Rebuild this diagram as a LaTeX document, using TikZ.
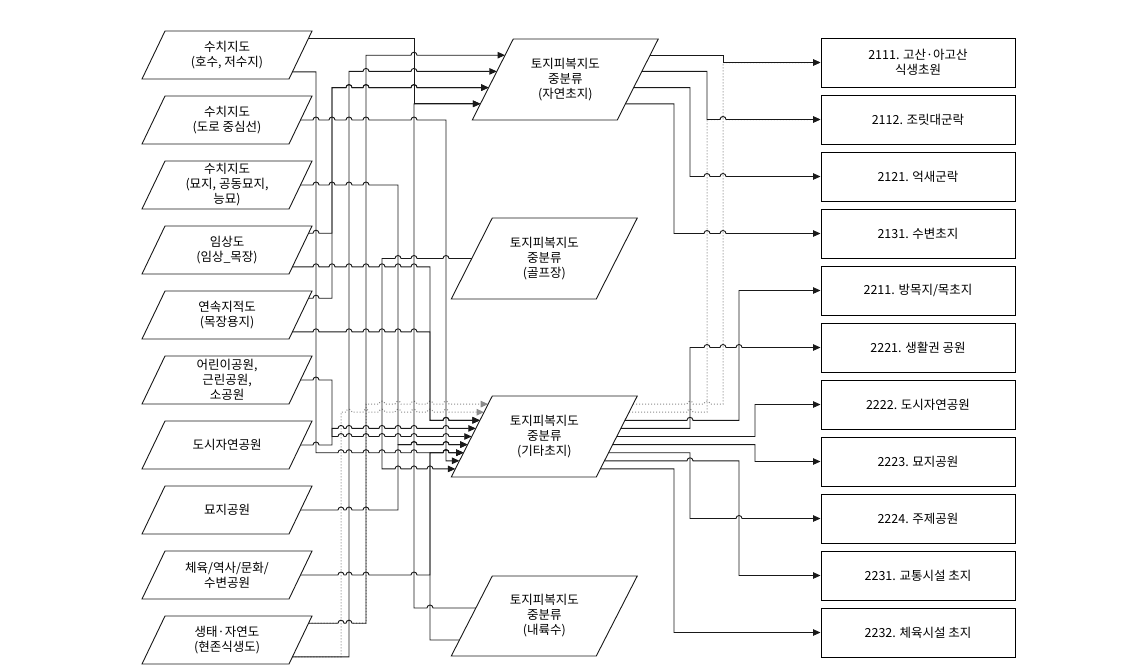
\documentclass[tikz,border=0pt]{standalone}
\usepackage{fontspec}
\setmainfont{Noto Sans CJK KR}
\usetikzlibrary{arrows.meta}
\newcommand\JR[2]{-- ({#1-3},#2) arc[start angle=180,end angle=0,radius=3pt]}
\newcommand\JL[2]{-- ({#1+3},#2) arc[start angle=0,end angle=180,radius=3pt]}
\newcommand\pgram[4]{\draw[shp] (#1.center) ++({-#2+#4},{-#3}) -- ++({2*#2},0) -- ++({-2*#4},{2*#3}) -- ++({-2*#2},0) -- cycle;}
\tikzset{
  ptext/.style={align=center,inner sep=0pt,font=\fontsize{12.5pt}{15pt}\selectfont},
  rbox/.style={draw=black,line width=1pt,minimum width=194pt,minimum height=49pt,inner sep=0pt,align=center,font=\fontsize{12.5pt}{15pt}\selectfont},
  shp/.style={draw=black!90,line width=0.9pt},
  conn/.style={draw=black!90,line width=0.9pt},
  dconn/.style={draw=black!45,line width=1pt,dash pattern=on 1pt off 2pt},
  arr/.style={-{Triangle[length=7.5pt,width=6.5pt]}}
}
\begin{document}
\begin{tikzpicture}[x=1pt,y=-1pt]
\useasboundingbox (0,0) rectangle (1134,670);
% source nodes
\node[ptext] (s1) at (227,55) {수치지도\\(호수, 저수지)};
\node[ptext] (s2) at (227,120) {수치지도\\(도로 중심선)};
\node[ptext] (s3) at (227,185) {수치지도\\(묘지, 공동묘지,\\능묘)};
\node[ptext] (s4) at (227,250) {임상도\\(임상\_목장)};
\node[ptext] (s5) at (227,315) {연속지적도\\(목장용지)};
\node[ptext] (s6) at (227,380) {어린이공원,\\근린공원,\\소공원};
\node[ptext] (s7) at (227,445) {도시자연공원};
\node[ptext] (s8) at (227,510) {묘지공원};
\node[ptext] (s9) at (227,575) {체육/역사/문화/\\수변공원};
\node[ptext] (s10) at (227,640) {생태·자연도\\(현존식생도)};
% middle nodes
\node[ptext] (m1) at (565.25,79.5) {토지피복지도\\중분류\\(자연초지)};
\node[ptext] (m2) at (544.25,258.5) {토지피복지도\\중분류\\(골프장)};
\node[ptext] (m3) at (544.25,436.5) {토지피복지도\\중분류\\(기타초지)};
\node[ptext] (m4) at (544.25,616) {토지피복지도\\중분류\\(내륙수)};
% target boxes
\node[rbox] (b1) at (918,62.5) {2111. 고산·아고산\\식생초원};
\node[rbox] (b2) at (918,119.5) {2112. 조릿대군락};
\node[rbox] (b3) at (918,176.5) {2121. 억새군락};
\node[rbox] (b4) at (918,233.5) {2131. 수변초지};
\node[rbox] (b5) at (918,290.5) {2211. 방목지/목초지};
\node[rbox] (b6) at (918,347.5) {2221. 생활권 공원};
\node[rbox] (b7) at (918,404.5) {2222. 도시자연공원};
\node[rbox] (b8) at (918,461.5) {2223. 묘지공원};
\node[rbox] (b9) at (918,518.5) {2224. 주제공원};
\node[rbox] (b10) at (918,575.5) {2231. 교통시설 초지};
\node[rbox] (b11) at (918,632.5) {2232. 체육시설 초지};
% ports
\coordinate (s1a) at (308.55,38.2);
\coordinate (s1b) at (292.45,71.8);
\coordinate (s2e) at (300.5,120);
\coordinate (s3e) at (300.5,185);
\coordinate (s4a) at (308.55,233.2);
\coordinate (s4b) at (292.45,266.8);
\coordinate (s5a) at (308.55,298.2);
\coordinate (s5b) at (292.45,331.8);
\coordinate (s6e) at (300.5,380);
\coordinate (s7e) at (300.5,445);
\coordinate (s8e) at (300.5,510);
\coordinate (s9e) at (300.5,575);
\coordinate (s10a) at (308.55,623.2);
\coordinate (s10b) at (292.45,656.8);
\coordinate (m1i1) at (505.05,55.2);
\coordinate (m1i2) at (496.85,71.4);
\coordinate (m1i3) at (488.65,87.6);
\coordinate (m1i4) at (480.45,103.8);
\coordinate (m1o1) at (650.05,55.2);
\coordinate (m1o2) at (641.85,71.4);
\coordinate (m1o3) at (633.65,87.6);
\coordinate (m1o4) at (625.45,103.8);
\coordinate (m2w) at (471.75,258.5);
\coordinate (m4a) at (475.85,608);
\coordinate (m4b) at (459.45,640);
\foreach \k in {1,...,9}{
  \coordinate (m3i\k) at ({492.25-4.1*\k},{396+8.1*\k});
  \coordinate (m3o\k) at ({637.25-4.1*\k},{396+8.1*\k});
}
% dotted connectors
\draw[dconn,arr] (s10a) \JR{341}{623.2}\JR{349}{623.2} -- (366,623.2) -- (366,404.1) \JR{382}{404.1}\JR{398}{404.1}\JR{414}{404.1}\JR{430}{404.1}\JR{446}{404.1} -- (m3i1);
\draw[dconn,arr] (s10b) -- (341,656.8) -- (341,412.2) \JR{349}{412.2}\JR{366}{412.2}\JR{382}{412.2}\JR{398}{412.2}\JR{414}{412.2}\JR{430}{412.2}\JR{446}{412.2} -- (m3i2);
\draw[dconn,arr] (m3o1) \JR{690}{404.1}\JR{707}{404.1} -- (723,404.1) -- (723,62.5) -- (b1.west);
\draw[dconn,arr] (m3o2) \JR{690}{412.2} -- (707,412.2) -- (707,119.5) \JR{723}{119.5} -- (b2.west);
% solid connectors, left
\draw[conn,arr] (s1a) -- (414,38.2) -- (414,103.8) -- (m1i4);
\draw[conn,arr] (s1b) -- (316,71.8) -- (316,452.7) \JR{341}{452.7}\JR{349}{452.7}\JR{366}{452.7}\JR{382}{452.7}\JR{398}{452.7}\JR{414}{452.7}\JR{446}{452.7} -- (m3i7);
\draw[conn,arr] (s2e) \JR{316}{120}\JR{332}{120}\JR{349}{120}\JR{366}{120}\JR{414}{120} -- (446,120) -- (446,460.8) -- (m3i8);
\draw[conn,arr] (s3e) \JR{316}{185}\JR{332}{185}\JR{349}{185}\JR{366}{185} -- (398,185) -- (398,444.6) \JR{414}{444.6}\JR{446}{444.6} -- (m3i6);
\draw[conn,arr] (s4a) \JR{316}{233.2} -- (332,233.2) -- (332,87.6) \JR{349}{87.6}\JR{366}{87.6}\JR{414}{87.6} -- (m1i3);
\draw[conn,arr] (s4b) \JR{316}{266.8}\JR{332}{266.8}\JR{349}{266.8}\JR{366}{266.8}\JR{382}{266.8}\JR{398}{266.8}\JR{414}{266.8} -- (430,266.8) -- (430,420.3) \JR{446}{420.3} -- (m3i3);
\draw[conn,arr] (s5a) \JR{316}{298.2} -- (332,298.2) -- (332,87.6) \JR{349}{87.6}\JR{366}{87.6}\JR{414}{87.6} -- (m1i3);
\draw[conn,arr] (s5b) \JR{316}{331.8}\JR{349}{331.8}\JR{366}{331.8}\JR{382}{331.8}\JR{398}{331.8}\JR{414}{331.8} -- (430,331.8) -- (430,420.3) \JR{446}{420.3} -- (m3i3);
\draw[conn,arr] (s6e) \JR{316}{380} -- (332,380) -- (332,436.5) \JR{341}{436.5}\JR{349}{436.5}\JR{366}{436.5}\JR{382}{436.5}\JR{398}{436.5}\JR{414}{436.5}\JR{446}{436.5} -- (m3i5);
\draw[conn,arr] (s7e) \JR{316}{445} -- (332,445) -- (332,428.4) \JR{341}{428.4}\JR{349}{428.4}\JR{366}{428.4}\JR{382}{428.4}\JR{398}{428.4}\JR{414}{428.4}\JR{446}{428.4} -- (m3i4);
\draw[conn,arr] (s8e) \JR{341}{510}\JR{349}{510}\JR{366}{510} -- (398,510) -- (398,444.6) \JR{414}{444.6}\JR{446}{444.6} -- (m3i6);
\draw[conn,arr] (s9e) \JR{341}{575}\JR{349}{575}\JR{366}{575}\JR{414}{575} -- (430,575) -- (430,452.7) \JR{446}{452.7} -- (m3i7);
\draw[conn,arr] (s10a) \JR{341}{623.2}\JR{349}{623.2} -- (366,623.2) -- (366,55.2) \JR{414}{55.2} -- (m1i1);
\draw[conn,arr] (s10b) -- (349,656.8) -- (349,71.4) \JR{366}{71.4}\JR{414}{71.4} -- (m1i2);
\draw[conn,arr] (m2w) \JL{446}{258.5}\JL{414}{258.5}\JL{398}{258.5} -- (382,258.5) -- (382,468.9) \JR{398}{468.9}\JR{414}{468.9}\JR{430}{468.9} -- (m3i9);
\draw[conn,arr] (m4a) \JL{430}{608} -- (414,608) -- (414,103.8) -- (m1i4);
\draw[conn,arr] (m4b) -- (430,640) -- (430,452.7) \JR{446}{452.7} -- (m3i7);
% solid connectors, right
\draw[conn,arr] (m1o1) -- (723,55.2) -- (723,62.5) -- (b1.west);
\draw[conn,arr] (m1o2) -- (707,71.4) -- (707,119.5) \JR{723}{119.5} -- (b2.west);
\draw[conn,arr] (m1o3) -- (690,87.6) -- (690,176.5) \JR{707}{176.5}\JR{723}{176.5} -- (b3.west);
\draw[conn,arr] (m1o4) -- (674,103.8) -- (674,233.5) \JR{707}{233.5}\JR{723}{233.5} -- (b4.west);
\draw[conn,arr] (m3o3) \JR{690}{420.3} -- (739,420.3) -- (739,290.5) -- (b5.west);
\draw[conn,arr] (m3o4) -- (690,428.4) -- (690,347.5) \JR{707}{347.5}\JR{723}{347.5}\JR{739}{347.5} -- (b6.west);
\draw[conn,arr] (m3o5) -- (755,436.5) -- (755,404.5) -- (b7.west);
\draw[conn,arr] (m3o6) -- (755,444.6) -- (755,461.5) -- (b8.west);
\draw[conn,arr] (m3o7) -- (690,452.7) -- (690,518.5) \JR{739}{518.5} -- (b9.west);
\draw[conn,arr] (m3o8) \JR{690}{460.8} -- (739,460.8) -- (739,575.5) -- (b10.west);
\draw[conn,arr] (m3o9) -- (674,468.9) -- (674,632.5) -- (b11.west);
% shapes
\foreach \n in {s1,s2,s3,s4,s5,s6,s7,s8,s9,s10}{\pgram{\n}{73.5}{24}{11.5}}
\pgram{m1}{72.5}{40.5}{20.5}
\pgram{m2}{72.5}{40.5}{20.5}
\pgram{m3}{72.5}{40.5}{20.5}
\pgram{m4}{72.5}{40}{20.5}
\end{tikzpicture}
\end{document}
